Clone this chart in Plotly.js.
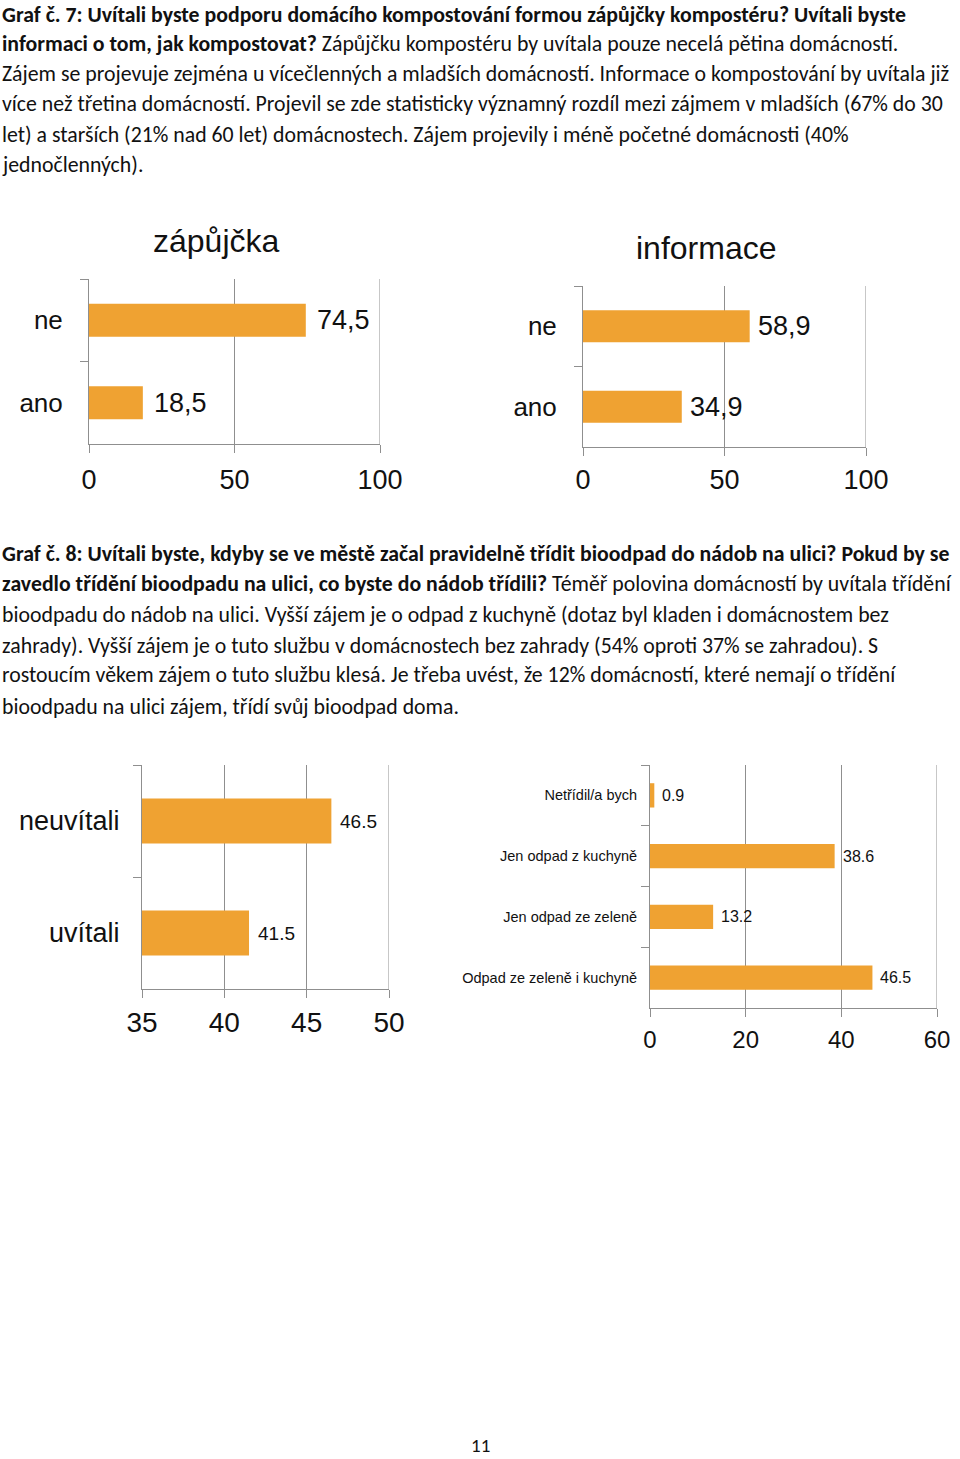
<!DOCTYPE html>
<html><head><meta charset="utf-8">
<script src="https://cdn.plot.ly/plotly-3.0.1.min.js"></script>
<style>html,body{margin:0;padding:0;background:#fff;} #chart{width:960px;height:1459px;}</style>
</head><body><div id="chart"></div>
<script>
const W = 960, H = 1459;

// ---- data: Graf č. 7 ----
const loanTitle = "zápůjčka";
const loanCategories = ["ne", "ano"];
const loanValues = [74.5, 18.5];
const loanTicks = [0, 50, 100];

const infoTitle = "informace";
const infoCategories = ["ne", "ano"];
const infoValues = [58.9, 34.9];
const infoTicks = [0, 50, 100];

// ---- data: Graf č. 8 ----
const welcomeCategories = ["neuvítali", "uvítali"];
const welcomeValues = [46.5, 41.5];
const welcomeTicks = [35, 40, 45, 50];

const sortCategories = ["Netřídil/a bych", "Jen odpad z kuchyně", "Jen odpad ze zeleně", "Odpad ze zeleně i kuchyně"];
const sortValues = [0.9, 38.6, 13.2, 46.5];
const sortTicks = [0, 20, 40, 60];

// ---- text ----
const para1 = [
  "<b>Graf č. 7: Uvítali byste podporu domácího kompostování formou zápůjčky kompostéru? Uvítali byste</b>",
  "<b>informaci o tom, jak kompostovat?</b> Zápůjčku kompostéru by uvítala pouze necelá pětina domácností.",
  "Zájem se projevuje zejména u vícečlenných a mladších domácností. Informace o kompostování by uvítala již",
  "více než třetina domácností. Projevil se zde statisticky významný rozdíl mezi zájmem v mladších (67% do 30",
  "let) a starších (21% nad 60 let) domácnostech. Zájem projevily i méně početné domácnosti (40%",
  "jednočlenných)."
];
const para2 = [
  "<b>Graf č. 8: Uvítali byste, kdyby se ve městě začal pravidelně třídit bioodpad do nádob na ulici? Pokud by se</b>",
  "<b>zavedlo třídění bioodpadu na ulici, co byste do nádob třídili?</b> Téměř polovina domácností by uvítala třídění",
  "bioodpadu do nádob na ulici. Vyšší zájem je o odpad z kuchyně (dotaz byl kladen i domácnostem bez",
  "zahrady). Vyšší zájem je o tuto službu v domácnostech bez zahrady (54% oproti 37% se zahradou). S",
  "rostoucím věkem zájem o tuto službu klesá. Je třeba uvést, že 12% domácností, které nemají o třídění",
  "bioodpadu na ulici zájem, třídí svůj bioodpad doma."
];
const pageNumber = "11";

// ---- styling ----
const BAR = "#EFA232";
const GRID = "#8f8f8f";
const CF = "Liberation Sans, Arial, sans-serif";
const TF = "Carlito, Lato, sans-serif";
const TSIZE = 21.8;
const px = v => v / W;
const py = v => 1 - v / H;

function xax(domL, domR, range, ticks, fsize, anchor, standoff) {
  return {domain: [px(domL), px(domR)], range: range, anchor: anchor, tickmode: "array", tickvals: ticks,
    ticktext: ticks.map(String), showgrid: true, gridcolor: GRID, gridwidth: 1, zeroline: false,
    showline: true, linecolor: GRID, linewidth: 1, ticks: "outside", ticklen: 8, tickcolor: GRID,
    ticklabelstandoff: standoff,
    tickfont: {family: CF, size: fsize, color: "#111"}, fixedrange: true};
}
function yax(domTop, domBot, fsize, standoff, anchor) {
  return {domain: [py(domBot), py(domTop)], anchor: anchor, type: "category", autorange: "reversed",
    tickson: "boundaries", ticks: "outside", ticklen: 8, tickcolor: GRID, showline: true, linecolor: GRID,
    linewidth: 1, showgrid: false, zeroline: false, ticklabelstandoff: standoff,
    tickfont: {family: CF, size: fsize, color: "#111"}, fixedrange: true};
}
function barTrace(cats, vals, xa, ya) {
  return {type: "bar", orientation: "h", x: vals, y: cats, xaxis: xa, yaxis: ya,
    marker: {color: BAR, line: {width: 0}}, hoverinfo: "none", showlegend: false};
}
function valueLabels(cats, vals, xa, ya, fsize, sep, shift) {
  return vals.map((v, i) => ({x: v, y: cats[i], xref: xa, yref: ya, showarrow: false, xanchor: "left",
    yanchor: "middle", xshift: shift, text: String(v).replace(".", sep),
    font: {family: CF, size: fsize, color: "#111"}}));
}
// gridline at the far end of each value axis (Plotly drops the one at the range edge)
function endGrid(ticks, xa, ya) {
  return {type: "line", xref: xa, yref: ya + " domain", x0: ticks[ticks.length - 1], x1: ticks[ticks.length - 1],
    y0: 0, y1: 1, line: {color: GRID, width: 1}, layer: "below"};
}

const data = [
  barTrace(loanCategories, loanValues, "x", "y"),
  barTrace(infoCategories, infoValues, "x2", "y2"),
  barTrace(welcomeCategories, welcomeValues, "x3", "y3"),
  barTrace(sortCategories, sortValues, "x4", "y4")
];

let annotations = [];
annotations = annotations.concat(valueLabels(loanCategories, loanValues, "x", "y", 27, ",", 9));
annotations = annotations.concat(valueLabels(infoCategories, infoValues, "x2", "y2", 27, ",", 6));
annotations = annotations.concat(valueLabels(welcomeCategories, welcomeValues, "x3", "y3", 19, ".", 7));
annotations = annotations.concat(valueLabels(sortCategories, sortValues, "x4", "y4", 16, ".", 6));

annotations.push({xref: "paper", yref: "paper", x: px(216), y: py(241), text: loanTitle, showarrow: false,
  xanchor: "center", yanchor: "middle", font: {family: CF, size: 32, color: "#111"}});
annotations.push({xref: "paper", yref: "paper", x: px(706), y: py(248), text: infoTitle, showarrow: false,
  xanchor: "center", yanchor: "middle", font: {family: CF, size: 32, color: "#111"}});

const p1y = [14.5, 43, 73, 104, 134, 165];
const p2y = [553, 583, 614, 645, 675, 706];
para1.forEach((t, i) => annotations.push({xref: "paper", yref: "paper", x: 0, y: py(p1y[i]), text: t,
  showarrow: false, xanchor: "left", yanchor: "middle", align: "left", font: {family: TF, size: TSIZE, color: "#111"}}));
para2.forEach((t, i) => annotations.push({xref: "paper", yref: "paper", x: 0, y: py(p2y[i]), text: t,
  showarrow: false, xanchor: "left", yanchor: "middle", align: "left", font: {family: TF, size: TSIZE, color: "#111"}}));
annotations.push({xref: "paper", yref: "paper", x: px(480), y: 0, text: pageNumber, showarrow: false,
  xanchor: "center", yanchor: "bottom", font: {family: TF, size: 19, color: "#111"}});

const layout = {
  width: W, height: H, margin: {l: 0, r: 0, t: 0, b: 0, pad: 0},
  paper_bgcolor: "#fff", plot_bgcolor: "rgba(0,0,0,0)", showlegend: false, bargap: 0.6,
  xaxis: xax(89, 380, [0, 100], loanTicks, 27, "y", 4),
  yaxis: yax(279, 444, 26, 20, "x"),
  xaxis2: xax(583, 866, [0, 100], infoTicks, 27, "y2", 1),
  yaxis2: yax(286, 447, 26, 20, "x2"),
  xaxis3: xax(142, 389, [35, 50], welcomeTicks, 28, "y3", 0),
  yaxis3: yax(765, 989, 27, 16, "x3"),
  xaxis4: xax(650, 937, [0, 60], sortTicks, 24, "y4", 2),
  yaxis4: yax(765, 1008, 14.5, 9, "x4"),
  shapes: [endGrid(loanTicks, "x", "y"), endGrid(infoTicks, "x2", "y2"),
           endGrid(welcomeTicks, "x3", "y3"), endGrid(sortTicks, "x4", "y4")],
  annotations: annotations
};

Plotly.newPlot("chart", data, layout, {staticPlot: true, displayModeBar: false});
</script>
</body></html>
